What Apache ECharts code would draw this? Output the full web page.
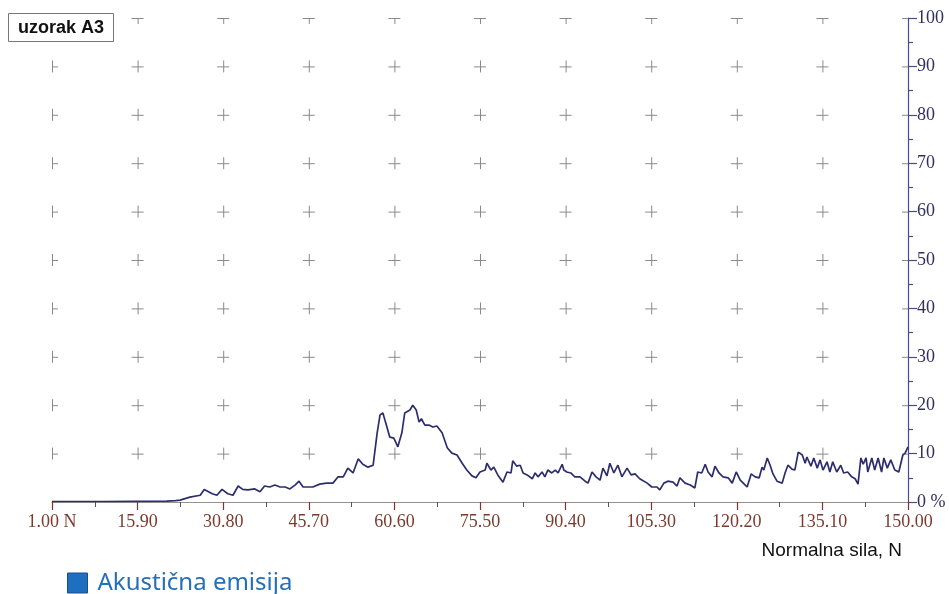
<!DOCTYPE html>
<html>
<head>
<meta charset="utf-8">
<script src="https://cdn.jsdelivr.net/npm/echarts@6/dist/echarts.min.js"></script>
<style>html,body{margin:0;padding:0;background:#fff;}#chart{width:949px;height:594px;}</style>
</head>
<body>
<div id="chart"></div>
<script>
// Tick labels of the force axis (N)
const xTicks = [1.00, 15.90, 30.80, 45.70, 60.60, 75.50, 90.40, 105.30, 120.20, 135.10, 150.00];
// Grid-cross rows (%)
const yCrossRows = [10, 20, 30, 40, 50, 60, 70, 80, 90, 100];
// Acoustic emission trace: force (N) and emission (%)
const forceN = [1, 10, 21, 22.5, 23.3, 25, 26.8, 27.5, 28.9, 29.7, 30.6, 31.6, 32.5, 33.4, 34.2, 35.1, 36.3, 37.2, 38, 38.9, 39.8, 40.7, 41.6, 42.4, 43.3, 44, 44.7, 45.6, 46.4, 47.6, 48.8, 49.9, 50.8, 51.7, 52.5, 53.4, 54.3, 55.1, 56, 56.9, 57.6, 58.1, 58.6, 59.1, 59.8, 60.5, 61.2, 61.9, 62.4, 63.3, 63.8, 64.4, 64.9, 65.3, 65.9, 66.6, 67.3, 68, 68.9, 69.8, 70.6, 71.5, 72.4, 73.2, 74.1, 74.8, 75.5, 76.4, 76.7, 77.4, 77.9, 78.6, 79.5, 80.2, 80.9, 81.2, 81.9, 82.5, 83, 83.7, 84.6, 85.1, 85.6, 86.3, 86.8, 87.3, 88, 88.6, 89.1, 89.8, 90.1, 90.6, 91.3, 92, 92.9, 93.8, 94.3, 95, 95.7, 96.4, 96.9, 97.6, 98.1, 98.8, 99.5, 100.2, 101.1, 101.8, 102.5, 103.3, 104.6, 105.4, 106.3, 106.8, 107.5, 108.2, 109.1, 109.8, 110.3, 111.2, 112.1, 112.9, 113.4, 114.1, 114.7, 115.2, 115.9, 116.4, 117.1, 117.8, 118.7, 119.4, 120.1, 120.8, 121.5, 122, 122.7, 123.4, 124.1, 124.6, 124.9, 125.5, 126, 126.5, 127.2, 128.1, 128.6, 129.1, 129.8, 130.3, 130.9, 131.6, 132.1, 132.4, 133.1, 133.6, 134.2, 134.7, 135.2, 135.9, 136.4, 136.9, 137.6, 138.3, 138.8, 139.5, 140.2, 140.8, 141.3, 141.8, 142.2, 142.7, 143, 143.7, 144.2, 144.8, 145.4, 145.8, 146.4, 147, 147.7, 148.4, 149.1, 149.5, 150];
const emissionPct = [0.1, 0.1, 0.2, 0.3, 0.4, 1, 1.4, 2.6, 1.7, 1.4, 2.6, 1.7, 1.4, 3.3, 2.6, 2.5, 2.7, 2.1, 3.3, 3.1, 3.5, 3.1, 3.1, 2.7, 3.5, 4.3, 3.1, 3.1, 3.1, 3.7, 3.9, 3.9, 5.2, 5.2, 7, 6, 8.9, 7.8, 7.2, 7.6, 14.3, 18, 18.4, 16.3, 13.4, 13.2, 11.4, 14.3, 18.4, 19, 20, 19, 16.5, 17.2, 15.9, 15.9, 15.5, 15.7, 14.3, 11.2, 10.1, 9.7, 8, 6.6, 5.4, 5, 6.2, 6.6, 8, 6.6, 7.2, 5.6, 4.1, 6.2, 6, 8.5, 7.4, 7.6, 6, 5.6, 4.8, 6, 5.2, 6.2, 5.2, 6.6, 6, 6.6, 6, 7.8, 6.6, 6.2, 6, 5.2, 5.2, 4.3, 3.9, 6.2, 5.2, 4.5, 7, 5.4, 8, 6, 7.6, 5.2, 7, 5.6, 5.8, 4.8, 3.9, 3.1, 3.1, 2.5, 3.9, 4.3, 4.1, 3.3, 5, 3.9, 3.5, 2.9, 6.2, 6, 7.8, 6.2, 5.2, 7.4, 6, 5.2, 5, 3.9, 6.2, 4.5, 3.7, 3.1, 5.8, 5.2, 5, 7.2, 6.6, 9.1, 7.6, 5.8, 4.3, 3.9, 6, 7.6, 6.8, 6.6, 10.3, 9.7, 8, 9.3, 7.4, 9.1, 7, 8.7, 6.6, 8.3, 6.2, 8.3, 6.2, 7.6, 6, 6.2, 5.2, 4.8, 3.7, 9.1, 7.8, 9.1, 6.2, 9.1, 6.6, 9.1, 6.2, 9.1, 7, 8.7, 6.6, 6.2, 9.7, 10.1, 11.4];

const seriesData = forceN.map((x, i) => [x, emissionPct[i]]);
const crossData = [];
xTicks.forEach(x => yCrossRows.forEach(y => crossData.push([x, y])));
const minorTicks = xTicks.slice(0, -1).map((v, i) => (v + xTicks[i + 1]) / 2);

const chart = echarts.init(document.getElementById('chart'), null, {renderer: 'canvas'});
chart.setOption({
  animation: false,
  backgroundColor: '#fff',
  title: {
    text: 'uzorak A3', left: 8, top: 13, padding: [6, 10, 5, 10],
    borderColor: '#777', borderWidth: 1, backgroundColor: '#fff',
    textStyle: {fontFamily: 'Liberation Sans', fontWeight: 'bold', fontSize: 18, color: '#111'}
  },
  legend: {
    left: 62, top: 566, itemWidth: 20, itemHeight: 20, icon: 'rect',
    data: [{name: 'Akustična emisija', itemStyle: {color: '#1f6fc1', borderColor: '#174f8a', borderWidth: 1}}],
    textStyle: {fontFamily: 'Noto Sans', fontSize: 24, color: '#2470b8', padding: [0, 0, 0, 5]}
  },
  graphic: [{
    type: 'text', right: 47, top: 541,
    style: {text: 'Normalna sila, N', fontFamily: 'Liberation Sans', fontSize: 19, fill: '#111'}
  }],
  grid: {left: 52, right: 41, top: 18, bottom: 92, containLabel: false},
  xAxis: [{
    type: 'value', min: 1, max: 150,
    axisLine: {show: true, lineStyle: {color: '#9a9090', width: 1}},
    axisTick: {show: true, customValues: xTicks, length: 8, lineStyle: {color: '#8b2e2e', width: 1.2}},
    axisLabel: {
      customValues: xTicks, margin: 11, fontFamily: 'Liberation Serif', fontSize: 18, color: '#7a3b2e',
      formatter: v => (Math.abs(v - 1) < 1e-6 ? '1.00 N' : v.toFixed(2))
    },
    splitLine: {show: false}
  }, {
    type: 'value', min: 1, max: 150, position: 'bottom',
    axisLine: {show: false},
    axisTick: {show: true, customValues: minorTicks, length: 5, lineStyle: {color: '#555', width: 1}},
    axisLabel: {show: false},
    splitLine: {show: false}
  }],
  yAxis: {
    type: 'value', min: 0, max: 100, interval: 10, position: 'right',
    axisLine: {show: true, lineStyle: {color: '#4a4a8c', width: 1.2}},
    axisTick: {show: true, length: 9, lineStyle: {color: '#4a4a8c', width: 1.2}},
    minorTick: {show: true, splitNumber: 2, length: 5, lineStyle: {color: '#4a4a8c', width: 1.2}},
    axisLabel: {
      margin: 9, fontFamily: 'Liberation Serif', fontSize: 18, color: '#30305e',
      formatter: v => (v === 0 ? '0 %' : String(v))
    },
    splitLine: {show: false}
  },
  series: [{
    type: 'custom', name: 'grid', silent: true, clip: true, z: 1,
    data: crossData,
    renderItem: (params, api) => {
      const p = api.coord([api.value(0), api.value(1)]);
      const a = 6;
      const st = {stroke: '#8a8a8a', lineWidth: 1};
      return {type: 'group', children: [
        {type: 'line', shape: {x1: p[0] - a, y1: p[1] + 0.5, x2: p[0] + a, y2: p[1] + 0.5}, style: st},
        {type: 'line', shape: {x1: p[0] + 0.5, y1: p[1] - a, x2: p[0] + 0.5, y2: p[1] + a}, style: st}
      ]};
    }
  }, {
    type: 'line', name: 'Akustična emisija', data: seriesData, showSymbol: false, z: 3,
    lineStyle: {color: '#2d2d6e', width: 1.7}, itemStyle: {color: '#2d2d6e'}
  }]
});
</script>
</body>
</html>
